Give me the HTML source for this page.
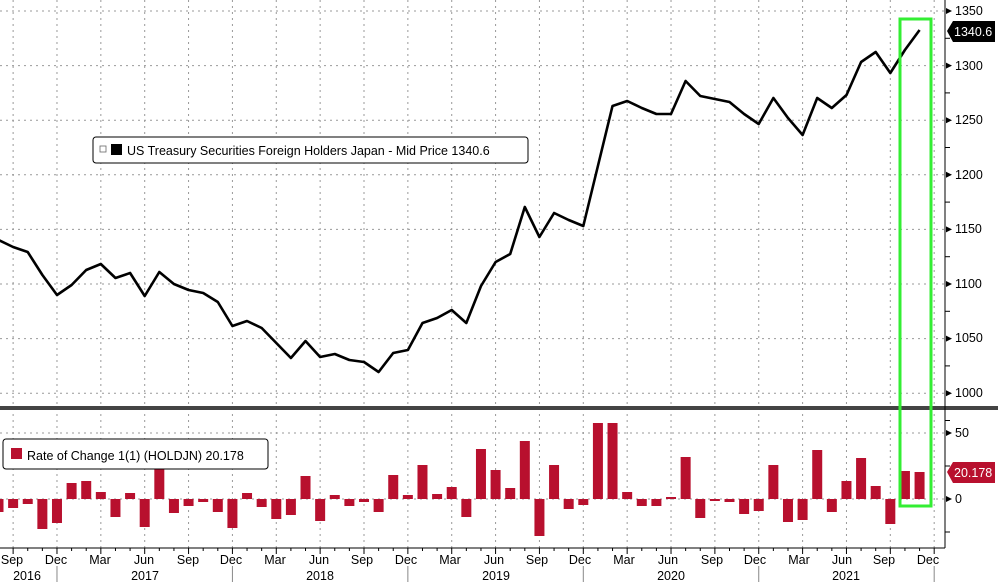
<!DOCTYPE html>
<html><head><meta charset="utf-8"><style>
html,body{margin:0;padding:0;background:#fff;}
svg{display:block;font-family:"Liberation Sans",sans-serif;}
</style></head><body>
<svg id="s" width="998" height="582" viewBox="0 0 998 582" xmlns="http://www.w3.org/2000/svg">
<rect width="998" height="582" fill="#fff"/>
<g id="grid"></g>
<g id="bars"></g>
<polyline id="line" fill="none" stroke="#000" stroke-width="2.6" stroke-linejoin="round"/>
<rect x="0" y="406" width="998" height="4" fill="#444"/>
<line x1="945" y1="0" x2="945" y2="548" stroke="#000" stroke-width="1"/>
<line x1="0" y1="548" x2="945" y2="548" stroke="#000" stroke-width="1"/>
<g id="ticks"></g>
<g font-size="12.5" fill="#000">
<text x="955" y="15">1350</text>
<text x="955" y="70">1300</text>
<text x="955" y="124">1250</text>
<text x="955" y="179">1200</text>
<text x="955" y="233">1150</text>
<text x="955" y="288">1100</text>
<text x="955" y="342">1050</text>
<text x="955" y="397">1000</text>
<text x="955" y="437">50</text>
<text x="955" y="503">0</text>
</g>
<path d="M947,31 L953,21 L995,21 L995,42 L953,42 Z" fill="#000"/>
<text x="954" y="36" font-size="12.5" fill="#fff">1340.6</text>
<path d="M947,472 L953,462 L995,462 L995,483 L953,483 Z" fill="#b8102e"/>
<text x="954" y="477" font-size="12.5" fill="#fff">20.178</text>
<rect x="93" y="137" width="435" height="26" rx="3" fill="#fff" stroke="#000"/>
<rect x="100" y="146" width="6" height="6" fill="none" stroke="#666" stroke-width="0.8"/>
<rect x="111" y="144" width="11" height="11" fill="#000"/>
<text x="127" y="155" font-size="12.5">US Treasury Securities Foreign Holders Japan - Mid Price 1340.6</text>
<rect x="3" y="439" width="265" height="30" rx="3" fill="#fff" stroke="#000"/>
<rect x="11" y="448" width="11" height="11" fill="#b8102e"/>
<text x="27" y="460" font-size="12.5">Rate of Change 1(1) (HOLDJN) 20.178</text>
<g font-size="12.5" text-anchor="middle">
<text x="12" y="564">Sep</text><text x="56" y="564">Dec</text><text x="100" y="564">Mar</text><text x="144" y="564">Jun</text>
<text x="188" y="564">Sep</text><text x="231" y="564">Dec</text><text x="275" y="564">Mar</text><text x="319" y="564">Jun</text>
<text x="362" y="564">Sep</text><text x="406" y="564">Dec</text><text x="450" y="564">Mar</text><text x="494" y="564">Jun</text>
<text x="537" y="564">Sep</text><text x="580" y="564">Dec</text><text x="624" y="564">Mar</text><text x="668" y="564">Jun</text>
<text x="712" y="564">Sep</text><text x="755" y="564">Dec</text><text x="799" y="564">Mar</text><text x="842" y="564">Jun</text>
<text x="884" y="564">Sep</text><text x="928" y="564">Dec</text>
<text x="27" y="580">2016</text><text x="145" y="580">2017</text><text x="320" y="580">2018</text>
<text x="496" y="580">2019</text><text x="671" y="580">2020</text><text x="846" y="580">2021</text>
</g>
<rect x="900" y="19" width="31" height="487" fill="none" stroke="#33ee33" stroke-width="3"/>
</svg>
<script>
var NS="http://www.w3.org/2000/svg";
function X(k){return -1.5+14.62*k;}
function el(p,t,a){var e=document.createElementNS(NS,t);for(var k in a)e.setAttribute(k,a[k]);document.getElementById(p).appendChild(e);return e;}
var ly=[240,247,252,275,295,285,270,264,278,273,296,272,284,290,293,302,326,321,328,343,358,341,357,354,360,362,372,353,350,323,318,310,323,286,262,254,207,237,213,220,226,166,106,101,108,114,114,81,96,99,102,114,124,98,118,135,98,108,95,62,52,73,50,30];
var pts=ly.map(function(y,k){return X(k).toFixed(1)+","+y;}).join(" ");
document.getElementById("line").setAttribute("points",pts);
var bv=[-13,-9,-5,-30,-24,16,18,7,-18,6,-28,30,-14,-7,-3,-13,-29,6,-8,-20,-16,23,-22,4,-7,-3,-13,24,4,34,5,12,-18,50,29,11,58,-37,34,-10,-6,76,76,7,-7,-7,2,42,-19,-2,-3,-15,-12,34,-23,-21,49,-13,18,41,13,-25,28,27];
bv.forEach(function(v,k){var x=X(k)-5;var y=v>0?499-v:499;el("bars","rect",{x:x,y:y,width:10,height:Math.abs(v),fill:"#b8102e"});});
for(var i=0;i<8;i++){var y=11+54.6*i;el("grid","line",{x1:0,x2:945,y1:y,y2:y,stroke:"#999","stroke-dasharray":"2,4","stroke-width":1});}
[433,499].forEach(function(y){el("grid","line",{x1:0,x2:945,y1:y,y2:y,stroke:"#999","stroke-dasharray":"2,4","stroke-width":1});});
for(var k=1;k<=64;k+=3){var x=X(k);el("grid","line",{x1:x,x2:x,y1:0,y2:548,stroke:"#999","stroke-dasharray":"2,4","stroke-width":1});}
for(var k=0;k<=64;k++){var x=X(k);el("ticks","line",{x1:x,x2:x,y1:548,y2:(k%3==1)?554:551,stroke:"#000"});}
for(var k=4;k<=64;k+=12){var x=X(k);el("ticks","line",{x1:x,x2:x,y1:566,y2:582,stroke:"#888"});}
for(var i=0;i<8;i++){var y=11+54.6*i;el("ticks","path",{d:"M946,"+(y-3)+" L952,"+y+" L946,"+(y+3)+"Z",fill:"#000"});el("ticks","line",{x1:945,x2:950,y1:y+27.3,y2:y+27.3,stroke:"#000"});}
[433,499].forEach(function(y){el("ticks","path",{d:"M946,"+(y-3)+" L952,"+y+" L946,"+(y+3)+"Z",fill:"#000"});});
el("ticks","line",{x1:945,x2:950,y1:466,y2:466,stroke:"#000"});el("ticks","line",{x1:945,x2:950,y1:532,y2:532,stroke:"#000"});
</script>
</body></html>
